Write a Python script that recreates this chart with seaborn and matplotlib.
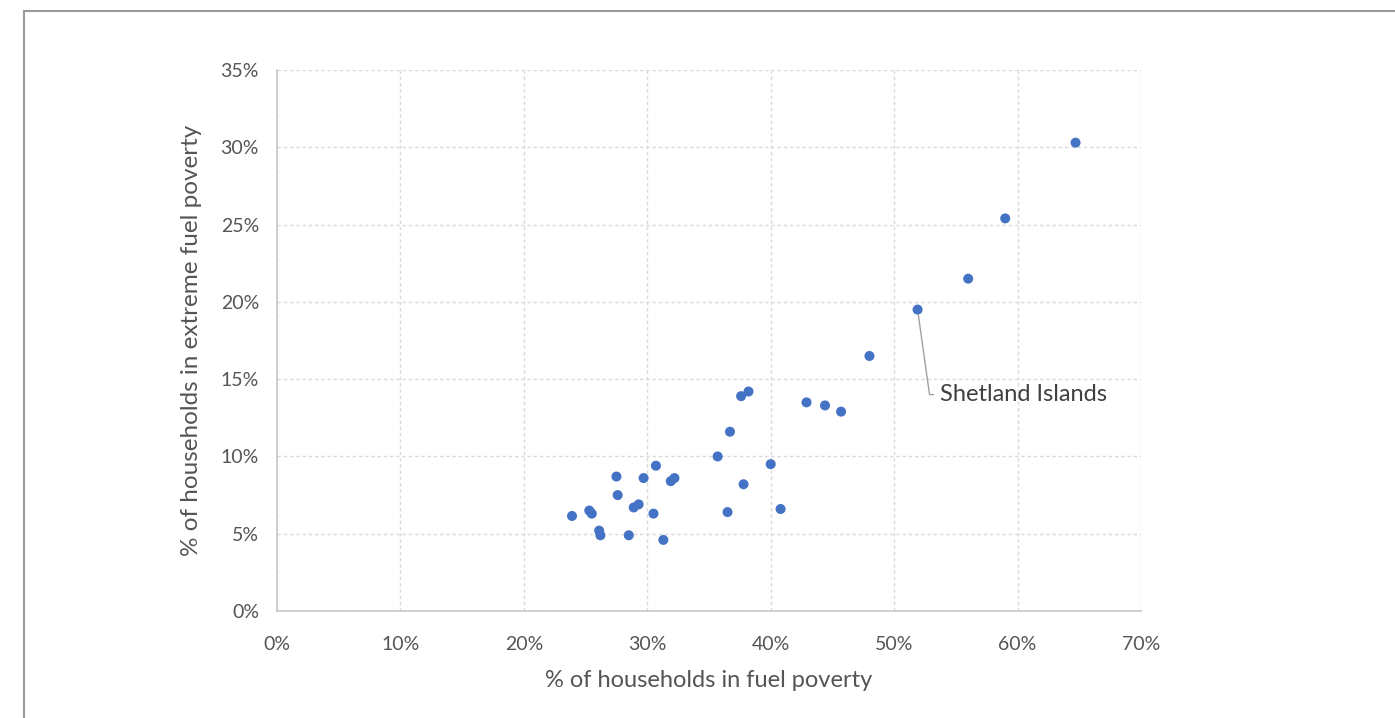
import matplotlib
matplotlib.use("Agg")
import matplotlib.pyplot as plt
import seaborn as sns
import pandas as pd
from matplotlib.patches import Rectangle
from matplotlib.ticker import PercentFormatter

# Data (% values)
fuel_poverty = [23.9, 25.3, 25.5, 26.1, 26.2, 27.5, 27.6, 28.5, 28.9, 29.3,
                29.7, 30.5, 30.7, 31.3, 31.9, 32.2, 35.7, 36.5, 36.7, 37.6,
                38.2, 37.8, 40.0, 40.8, 42.9, 44.4, 45.7, 48.0, 51.9, 56.0,
                59.0, 64.7]
extreme_fuel_poverty = [6.15, 6.5, 6.3, 5.2, 4.9, 8.7, 7.5, 4.9, 6.7, 6.9,
                        8.6, 6.3, 9.4, 4.6, 8.4, 8.6, 10.0, 6.4, 11.6, 13.9,
                        14.2, 8.2, 9.5, 6.6, 13.5, 13.3, 12.9, 16.5, 19.5, 21.5,
                        25.4, 30.3]
label_name = "Shetland Islands"
label_index = 28
x_ticks = [0, 10, 20, 30, 40, 50, 60, 70]
y_ticks = [0, 5, 10, 15, 20, 25, 30, 35]
x_label = "% of households in fuel poverty"
y_label = "% of households in extreme fuel poverty"

df = pd.DataFrame({"fp": fuel_poverty, "efp": extreme_fuel_poverty})

sns.set_theme(style="white")
plt.rcParams["font.family"] = ["Lato", "DejaVu Sans"]

fig = plt.figure(figsize=(13.95, 7.18), dpi=100)
ax = fig.add_axes([0.1986, 0.149, 0.6193, 0.7535])

sns.scatterplot(data=df, x="fp", y="efp", ax=ax, s=52, color="#4472C4",
                edgecolor="none", zorder=3, legend=False)

ax.set_xlim(0, 70)
ax.set_ylim(0, 35)
ax.set_xticks(x_ticks)
ax.set_yticks(y_ticks)
ax.xaxis.set_major_formatter(PercentFormatter(decimals=0))
ax.yaxis.set_major_formatter(PercentFormatter(decimals=0))
ax.grid(True, color="#dadada", linestyle=(0, (2.5, 2)), linewidth=1.0, zorder=0)
ax.tick_params(axis="both", length=0, labelsize=14, labelcolor="#555555")
ax.tick_params(axis="x", pad=18)
ax.tick_params(axis="y", pad=13)

for s in ["top", "right"]:
    ax.spines[s].set_visible(False)
for s in ["left", "bottom"]:
    ax.spines[s].set_color("#c8c8c8")
    ax.spines[s].set_linewidth(1.2)

ax.set_xlabel(x_label, fontsize=17, color="#555555", labelpad=12)
ax.set_ylabel(y_label, fontsize=17.5, color="#555555", labelpad=13.5)

ax.annotate(label_name,
            xy=(fuel_poverty[label_index], extreme_fuel_poverty[label_index]),
            xytext=(53.7, 14.0), textcoords="data",
            fontsize=17, color="#404040", ha="left", va="center",
            arrowprops=dict(arrowstyle="-", color="#a0a0a0", lw=1.0,
                            shrinkA=2, shrinkB=4,
                            connectionstyle="angle,angleA=0,angleB=98,rad=0"))

# outer frame (partially cropped in the reference)
fig.patches.append(Rectangle((24 / 1395, -0.02), 1.1, (718 - 11) / 718 + 0.02,
                             transform=fig.transFigure, fill=False,
                             edgecolor="#9a9a9a", linewidth=1.5, zorder=10))

fig.savefig("out.png", dpi=100)
